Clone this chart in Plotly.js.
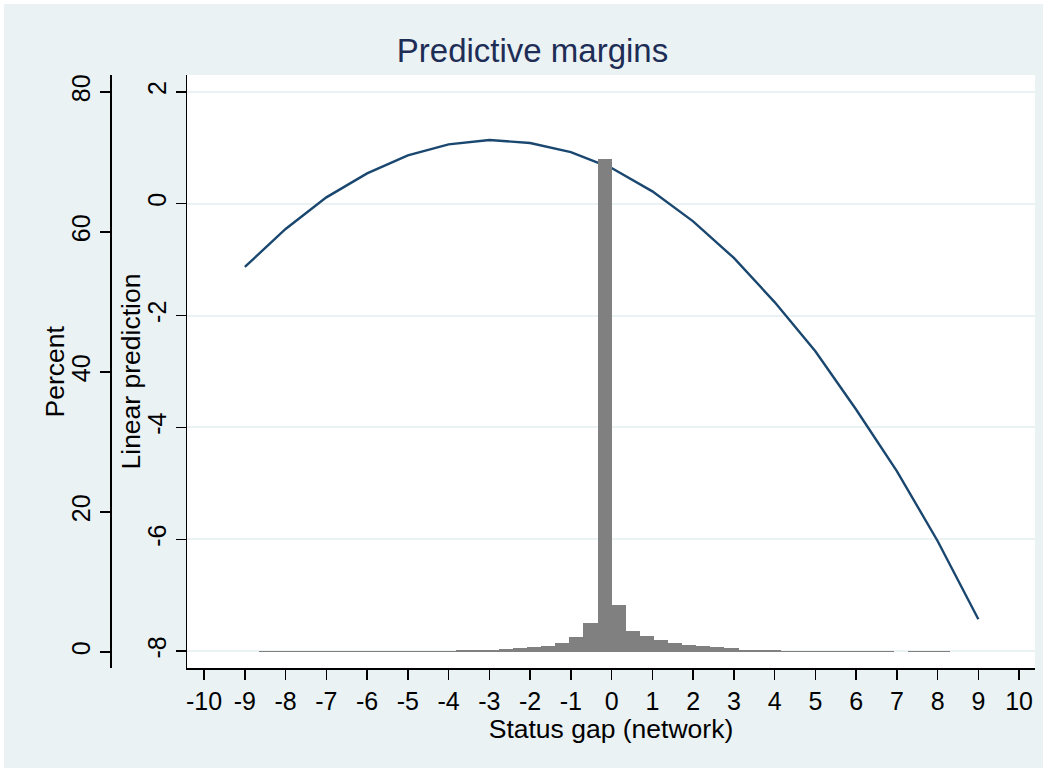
<!DOCTYPE html>
<html>
<head>
<meta charset="utf-8">
<script src="https://cdn.plot.ly/plotly-3.0.1.min.js"></script>
<style>html,body{margin:0;padding:0;background:#fff;}#chart{width:1047px;height:772px;}</style>
</head>
<body>
<div id="chart"></div>
<script>
// Linear prediction (margins) at integer status gaps
const gapValues = [-9,-8,-7,-6,-5,-4,-3,-2,-1,0,1,2,3,4,5,6,7,8,9];
const linearPrediction = [-1.130,-0.452,0.113,0.541,0.862,1.059,1.137,1.084,0.923,0.637,0.220,-0.316,-0.970,-1.759,-2.638,-3.679,-4.780,-6.030,-7.429];

// Histogram of status gap: 52 bins from -9 to 9, percent per bin
const histStart = -9;
const histEnd = 9;
const histBins = 52;
const histPercent = [
  0.03,0.1,0.1,0.1,0.1,0.1,0.1,0.1,0.1,0.1,0.1,0.1,0.12,0.13,0.15,
  0.24,0.24,0.24,0.38,0.52,0.67,0.86,1.24,2.10,4.10,70.40,
  6.70,2.96,2.24,1.67,1.24,0.95,0.81,0.67,0.52,0.28,0.26,0.24,0.14,
  0.1,0.1,0.1,0.1,0.1,0.1,0.1,0,0.1,0.1,0.1,0,0
];

const xTicks = [-10,-9,-8,-7,-6,-5,-4,-3,-2,-1,0,1,2,3,4,5,6,7,8,9,10];
const predTicks = [-8,-6,-4,-2,0,2];
const pctTicks = [0,20,40,60,80];

const binWidth = (histEnd - histStart) / histBins;
const FONT = 'Liberation Sans, Arial, sans-serif';
const W = 1035; // plot width when l=0, r=12

const lineTrace = {
  type: 'scatter', mode: 'lines',
  x: gapValues, y: linearPrediction,
  xaxis: 'x', yaxis: 'y',
  line: {color: '#1a476f', width: 2.4},
  hoverinfo: 'x+y', showlegend: false
};
const barTrace = {
  type: 'bar',
  x0: histStart + binWidth / 2, dx: binWidth,
  y: histPercent,
  width: binWidth,
  xaxis: 'x', yaxis: 'y2',
  marker: {color: '#808080', line: {width: 0}},
  showlegend: false
};

const axisCommon = {
  showline: true, linecolor: '#000', linewidth: 1.5,
  ticks: 'outside', ticklen: 10, tickwidth: 1.5, tickcolor: '#000',
  tickfont: {family: FONT, size: 25, color: '#000'},
  zeroline: false
};

const titleFont = {family: FONT, size: 26.5, color: '#000'};

const layout = {
  width: 1047, height: 772,
  margin: {l: 0, r: 12, t: 75, b: 104},
  paper_bgcolor: '#EAF2F3',
  plot_bgcolor: '#ffffff',
  bargap: 0,
  title: {
    text: 'Predictive margins',
    font: {family: FONT, size: 33, color: '#1e2d56'},
    xref: 'paper', x: 0.5145, xanchor: 'center',
    yref: 'container', y: 1 - 50/772, yanchor: 'middle'
  },
  xaxis: Object.assign({}, axisCommon, {
    domain: [187/W, 1],
    range: [-10.42, 10.39],
    tickmode: 'array', tickvals: xTicks, ticktext: xTicks.map(String),
    showgrid: false,
    title: {text: 'Status gap (network)', font: titleFont, standoff: 0}
  }),
  yaxis: Object.assign({}, axisCommon, {
    range: [-8.30, 2.30],
    tickmode: 'array', tickvals: predTicks, ticktext: predTicks.map(String),
    tickangle: -90,
    showgrid: true, gridcolor: '#EAF2F3', gridwidth: 2
  }),
  yaxis2: Object.assign({}, axisCommon, {
    overlaying: 'y', anchor: 'free', side: 'left', position: 110/W,
    range: [-2.286, 82.43],
    tickmode: 'array', tickvals: pctTicks, ticktext: pctTicks.map(String),
    tickangle: -90,
    showgrid: false
  }),
  annotations: [
    {text: 'Percent', xref: 'paper', yref: 'paper', x: 54/W, y: 0.5,
     xanchor: 'center', yanchor: 'middle', textangle: -90, showarrow: false, font: titleFont},
    {text: 'Linear prediction', xref: 'paper', yref: 'paper', x: 130/W, y: 0.5,
     xanchor: 'center', yanchor: 'middle', textangle: -90, showarrow: false, font: titleFont}
  ],
  shapes: [{
    type: 'rect', xref: 'paper', yref: 'paper', layer: 'below',
    x0: 0, x1: 1047/W, y0: -104/593, y1: 668/593,
    line: {color: '#ffffff', width: 8}, fillcolor: 'rgba(0,0,0,0)'
  }]
};

Plotly.newPlot('chart', [lineTrace, barTrace], layout, {displayModeBar: false, staticPlot: true});
</script>
</body>
</html>
